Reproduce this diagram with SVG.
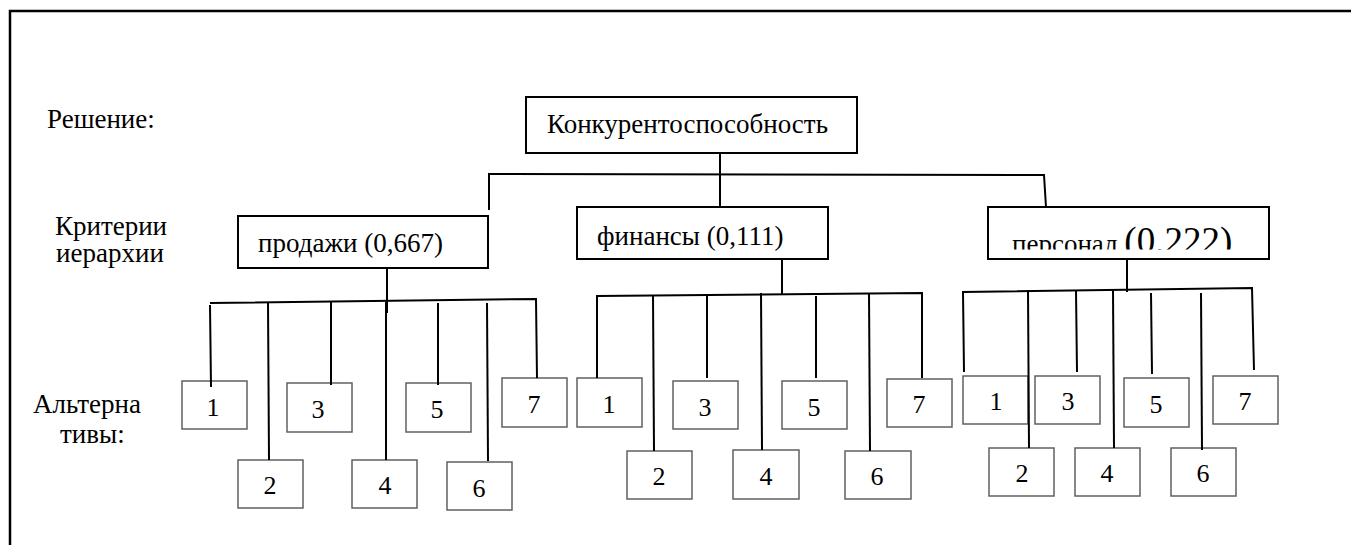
<svg xmlns="http://www.w3.org/2000/svg" width="1351" height="545" viewBox="0 0 1351 545">
<style>
.t{font-family:'Liberation Serif','Times New Roman','DejaVu Serif',serif;font-size:27px;fill:#000}
.n{font-size:26px;text-anchor:middle}
.c{text-anchor:middle}
.main rect{fill:#fff;stroke:#000;stroke-width:2}
.alt rect{fill:#fff;stroke:#606060;stroke-width:1.5}
#connectors path{stroke:#000;stroke-width:2;fill:none}
</style>
<defs>
<clipPath id="clipP"><rect x="988" y="207" width="281" height="42.5"/></clipPath>
</defs>
<rect width="1351" height="545" fill="#fff"/>
<path d="M10,545 V11 H1351" fill="none" stroke="#000" stroke-width="2.5"/>
<text class="t" x="47" y="128">Решение:</text>
<text class="t c" x="111" y="235">Критерии</text>
<text class="t c" x="110" y="262">иерархии</text>
<text class="t" x="33" y="413">Альтерна</text>
<text class="t" x="60" y="443">тивы:</text>

<g id="node-root" class="main"><rect x="526" y="97" width="331" height="56"/><text class="t" x="547" y="133">Конкурентоспособность</text></g>
<g id="node-sales" class="main"><rect x="238" y="216" width="250" height="52"/><text class="t" x="258" y="252">продажи (0,667)</text></g>
<g id="node-finance" class="main"><rect x="577" y="207" width="251" height="52"/><text class="t" x="597" y="245">финансы (0,111)</text></g>
<g id="node-staff" class="main"><rect x="988" y="207" width="281" height="52"/><text class="t" x="1012" y="253" clip-path="url(#clipP)">персонал <tspan style="font-size:37px">(0,222)</tspan></text></g>

<g id="alt-sales" class="alt">
<g id="s1"><rect x="182" y="381" width="65" height="48"/><text class="t n" x="213" y="416">1</text></g>
<g id="s2"><rect x="238" y="460" width="65" height="48"/><text class="t n" x="270" y="494">2</text></g>
<g id="s3"><rect x="287" y="383" width="65" height="49"/><text class="t n" x="318" y="418">3</text></g>
<g id="s4"><rect x="352" y="460" width="65" height="48"/><text class="t n" x="385" y="494">4</text></g>
<g id="s5"><rect x="406" y="383" width="65" height="49"/><text class="t n" x="437" y="418">5</text></g>
<g id="s6"><rect x="447" y="462" width="65" height="48"/><text class="t n" x="479" y="497">6</text></g>
<g id="s7"><rect x="502" y="378" width="65" height="49"/><text class="t n" x="534" y="413">7</text></g>
</g>
<g id="alt-finance" class="alt">
<g id="f1"><rect x="577" y="378" width="65" height="49"/><text class="t n" x="609" y="413">1</text></g>
<g id="f2"><rect x="627" y="451" width="65" height="48"/><text class="t n" x="659" y="485">2</text></g>
<g id="f3"><rect x="673" y="381" width="65" height="48"/><text class="t n" x="705" y="416">3</text></g>
<g id="f4"><rect x="733" y="450" width="66" height="49"/><text class="t n" x="766" y="485">4</text></g>
<g id="f5"><rect x="782" y="381" width="65" height="48"/><text class="t n" x="814" y="416">5</text></g>
<g id="f6"><rect x="845" y="451" width="66" height="48"/><text class="t n" x="877" y="485">6</text></g>
<g id="f7"><rect x="887" y="379" width="65" height="48"/><text class="t n" x="919" y="413">7</text></g>
</g>
<g id="alt-staff" class="alt">
<g id="p1"><rect x="963" y="376" width="65" height="48"/><text class="t n" x="996" y="410">1</text></g>
<g id="p2"><rect x="989" y="448" width="65" height="48"/><text class="t n" x="1022" y="482">2</text></g>
<g id="p3"><rect x="1035" y="376" width="65" height="48"/><text class="t n" x="1068" y="410">3</text></g>
<g id="p4"><rect x="1075" y="448" width="65" height="48"/><text class="t n" x="1107" y="482">4</text></g>
<g id="p5"><rect x="1124" y="378" width="65" height="49"/><text class="t n" x="1156" y="413">5</text></g>
<g id="p6"><rect x="1171" y="448" width="65" height="48"/><text class="t n" x="1203" y="482">6</text></g>
<g id="p7"><rect x="1213" y="376" width="65" height="48"/><text class="t n" x="1245" y="410">7</text></g>
</g>

<g id="connectors">
<path d="M720,153 V207"/>
<path d="M488,174 L1044,175 L1046,207"/>
<path d="M489,174 V210"/>
<path d="M387,268 V313"/>
<path d="M210,303 L536,299 L537,378"/>
<path d="M210,305 L211,387"/>
<path d="M268,302 L269,460"/>
<path d="M331,302 V385"/>
<path d="M386,302 V460"/>
<path d="M438,303 V385"/>
<path d="M487,303 L488,461"/>
<path d="M782,259 V295"/>
<path d="M597,378 V296 L922,293 V378"/>
<path d="M653,296 L654,451"/>
<path d="M707,296 V378"/>
<path d="M761,293 L762,450"/>
<path d="M816,296 V378"/>
<path d="M869,293 L870,451"/>
<path d="M1127,259 V292"/>
<path d="M964,372 L963,292 L1252,288 L1254,370"/>
<path d="M1028,290 L1029,448"/>
<path d="M1076,290 L1077,372"/>
<path d="M1113,290 L1114,448"/>
<path d="M1151,293 L1152,374"/>
<path d="M1201,293 L1202,450"/>
</g>
</svg>
